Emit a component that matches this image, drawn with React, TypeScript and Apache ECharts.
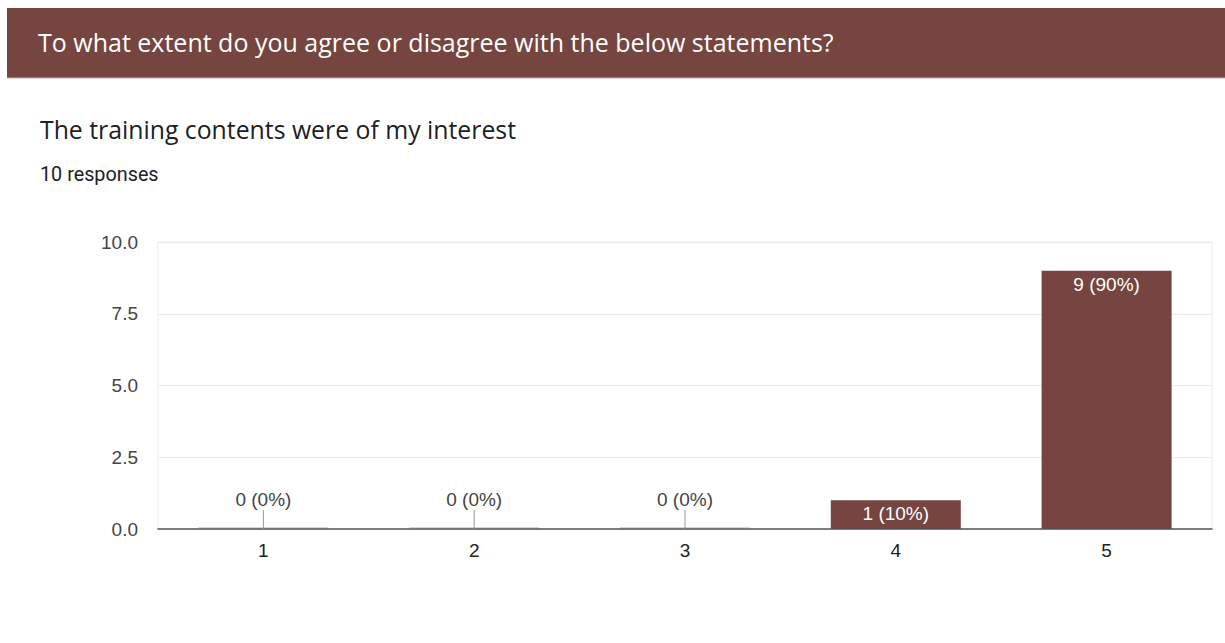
import React, { useEffect, useRef } from "react";
import * as echarts from "echarts";

const categories = ["1", "2", "3", "4", "5"];
const counts = [0, 0, 0, 1, 9];
const yTicks = [0, 2.5, 5, 7.5, 10];
const headerTitle = "To what extent do you agree or disagree with the below statements?";
const questionTitle = "The training contents were of my interest";
const responsesText = "10 responses";

const BRAND = "#764540";
const AXIS_FONT = '"Liberation Sans", Arial, sans-serif';

export default function App() {
  const ref = useRef<HTMLDivElement>(null);
  useEffect(() => {
    if (!ref.current) return;
    const chart = echarts.init(ref.current, undefined, { renderer: "svg" });
    const total = counts.reduce((a, b) => a + b, 0);
    const pct = (v: number) => Math.round((v / total) * 100);
    const zeroItems = categories
      .map((c, i) => [i, counts[i]])
      .filter((d) => d[1] === 0);

    chart.setOption({
      animation: false,
      backgroundColor: "#ffffff",
      graphic: [
        {
          type: "rect",
          shape: { x: 7, y: 8, width: 1218, height: 70 },
          style: { fill: BRAND },
        },
        {
          type: "line",
          shape: { x1: 7, y1: 78, x2: 1225, y2: 78 },
          style: { stroke: "#c9b3b0", lineWidth: 1 },
        },
        {
          type: "text",
          x: 38,
          y: 42,
          style: {
            text: headerTitle,
            fill: "#ffffff",
            font: '25px "Open Sans", Roboto, sans-serif',
            textVerticalAlign: "middle",
          },
        },
        {
          type: "text",
          x: 40,
          y: 129,
          style: {
            text: questionTitle,
            fill: "#202124",
            font: '24.8px "Open Sans", Roboto, sans-serif',
            textVerticalAlign: "middle",
          },
        },
        {
          type: "text",
          x: 40,
          y: 174,
          style: {
            text: responsesText,
            fill: "#202124",
            font: '19.8px Roboto, "Liberation Sans", sans-serif',
            textVerticalAlign: "middle",
          },
        },
      ],
      grid: {
        left: 158,
        right: 13,
        top: 242,
        bottom: 114,
        show: true,
        borderColor: "#ebebeb",
        borderWidth: 1,
      },
      xAxis: {
        type: "category",
        data: categories,
        axisLine: { lineStyle: { color: "#555555", width: 1.5 } },
        axisTick: { show: false },
        axisLabel: {
          color: "#222222",
          fontSize: 19,
          fontFamily: AXIS_FONT,
          margin: 12,
        },
        z: 5,
      },
      yAxis: {
        type: "value",
        min: yTicks[0],
        max: yTicks[yTicks.length - 1],
        interval: 2.5,
        axisLine: { show: false },
        axisTick: { show: false },
        axisLabel: {
          color: "#444444",
          fontSize: 19,
          fontFamily: AXIS_FONT,
          margin: 20,
          formatter: (v: number) => v.toFixed(1),
        },
        splitLine: { lineStyle: { color: "#ebebeb", width: 1 } },
      },
      series: [
        {
          type: "bar",
          data: counts.map((v) =>
            v === 0
              ? { value: v, itemStyle: { color: "#d6d6d6" }, label: { show: false } }
              : { value: v }
          ),
          barWidth: 130,
          barMinHeight: 2,
          itemStyle: { color: BRAND },
          label: {
            show: true,
            position: "insideTop",
            distance: 4,
            color: "#ffffff",
            fontSize: 19,
            fontFamily: AXIS_FONT,
            formatter: (p: any) => `${p.value} (${pct(p.value)}%)`,
          },
        },
        {
          type: "custom",
          data: zeroItems,
          z: 6,
          renderItem: (params: any, api: any) => {
            const p = api.coord([api.value(0), api.value(1)]);
            const v = api.value(1);
            return {
              type: "group",
              children: [
                {
                  type: "line",
                  shape: { x1: p[0], y1: p[1], x2: p[0], y2: p[1] - 19 },
                  style: { stroke: "#999999", lineWidth: 1 },
                },
                {
                  type: "text",
                  x: p[0],
                  y: p[1] - 30,
                  style: {
                    text: `${v} (${pct(v)}%)`,
                    fill: "#444444",
                    font: `19px ${AXIS_FONT}`,
                    textAlign: "center",
                    textVerticalAlign: "middle",
                  },
                },
              ],
            };
          },
        },
      ],
    });
    return () => chart.dispose();
  }, []);
  return (
    <div
      ref={ref}
      style={{ position: "fixed", left: 0, top: 0, width: 1225, height: 643 }}
    />
  );
}
